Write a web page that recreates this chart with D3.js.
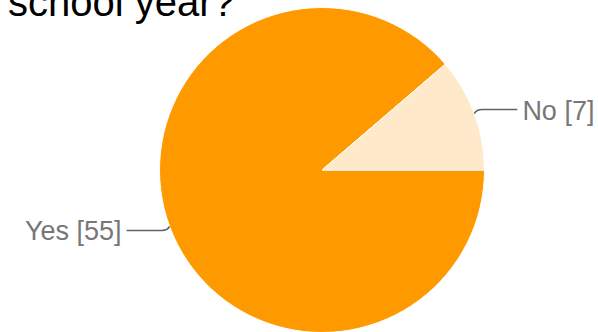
<!DOCTYPE html>
<html>
<head>
<meta charset="utf-8">
<script src="https://cdn.jsdelivr.net/npm/d3@7"></script>
<style>
  html, body { margin: 0; padding: 0; background: #fff; }
  svg { display: block; }
</style>
</head>
<body>
<svg id="chart" width="598" height="332"></svg>
<script>
// Survey answers
const categories = ["Yes", "No"];
const counts = [55, 7];
const sliceColors = ["#ff9900", "#ffe9cb"];
const titleText = "school year?";

const W = 598, H = 332;
const cx = 322, cy = 170, radius = 162.5;

const svg = d3.select("#chart");

// Title (tail of a question that wraps above the visible area)
svg.append("text")
  .attr("x", 8)
  .attr("y", 15.5)
  .attr("font-family", "Liberation Sans, Arial, sans-serif")
  .attr("font-size", 40)
  .attr("fill", "#000")
  .text(titleText);

const data = categories.map((c, i) => ({ label: c, value: counts[i], color: sliceColors[i] }));

// Slices start at 3 o'clock and run clockwise
const pie = d3.pie()
  .value(d => d.value)
  .sort(null)
  .startAngle(Math.PI / 2)
  .endAngle(Math.PI / 2 + 2 * Math.PI);

const arcs = pie(data);
const arc = d3.arc().innerRadius(0).outerRadius(radius);

const g = svg.append("g").attr("transform", `translate(${cx},${cy})`);

g.selectAll("path.slice")
  .data(arcs)
  .join("path")
  .attr("class", "slice")
  .attr("d", arc)
  .attr("fill", d => d.data.color)
  .attr("stroke", "#fff")
  .attr("stroke-width", 1);

// Leader lines and labels
arcs.forEach(a => {
  const mid = (a.startAngle + a.endAngle) / 2;
  const ex = Math.sin(mid) * radius;
  const ey = -Math.cos(mid) * radius;
  const right = ex > 0;
  const dir = right ? 1 : -1;
  const ly = ey + (right ? -4 : 4);
  const bendX = ex + dir * 8;
  const endX = ex + dir * 43;
  g.append("path")
    .attr("d", `M${ex},${ey} Q${ex + dir * 2},${ly} ${bendX},${ly} L${endX},${ly}`)
    .attr("fill", "none")
    .attr("stroke", "#636363")
    .attr("stroke-width", 1.6);
  g.append("text")
    .attr("x", endX + dir * 5)
    .attr("y", ly)
    .attr("dy", "0.37em")
    .attr("text-anchor", right ? "start" : "end")
    .attr("font-family", "Liberation Sans, Arial, sans-serif")
    .attr("font-size", 27)
    .attr("fill", "#777")
    .text(`${a.data.label} [${a.data.value}]`);
});
</script>
</body>
</html>
